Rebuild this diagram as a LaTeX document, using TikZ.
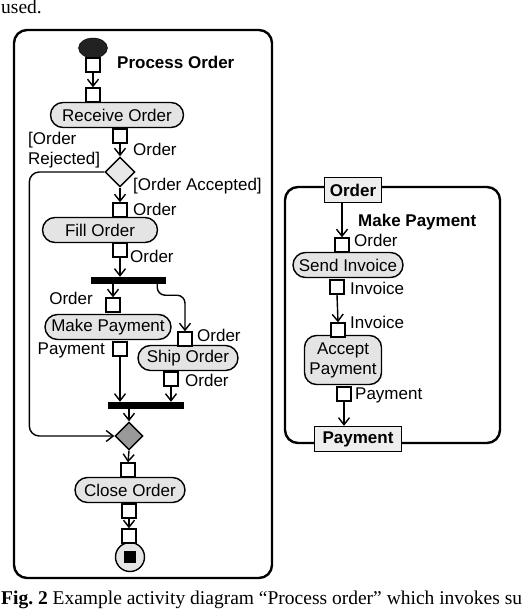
\documentclass[tikz,border=0pt]{standalone}
\usepackage{fontspec}
\setmainfont{Liberation Sans}
\newfontfamily\capfont{Liberation Serif}
\newcommand\fs{\fontsize{17}{20}\selectfont}
\newcommand\capfs{\fontsize{19.5}{22}\selectfont}
\newcommand\lw{1.4pt}
\usepackage{tikz}
\usetikzlibrary{shapes.geometric,arrows.meta}
\definecolor{actgray}{HTML}{E4E4E4}
\definecolor{decgray}{HTML}{E8E8E8}
\definecolor{mergegray}{HTML}{999999}
\definecolor{startgray}{HTML}{222222}
\definecolor{boxgray}{HTML}{EEEEEE}
\tikzset{action/.style={draw,line width=\lw,fill=actgray,rounded corners=12.5pt,minimum height=25,inner sep=1pt,font=\fs},
         pin/.style={draw,line width=\lw,fill=white,minimum size=14,inner sep=0pt},
         decision/.style={diamond,draw,line width=\lw,fill=decgray,minimum size=30,inner sep=0pt},
         bar/.style={rectangle,draw,fill=black,minimum height=6,inner sep=0pt},
         param/.style={draw,line width=\lw,fill=boxgray,minimum height=25,inner sep=2pt,font=\fs\bfseries},
         frame/.style={line width=2.4pt,rounded corners=13},
         lbl/.style={inner sep=0pt,font=\fs},
         title/.style={inner sep=0pt,font=\fs\bfseries},
         flow/.style={line width=\lw,-{Straight Barb[length=7pt,width=11pt]}}}

\begin{document}
\begin{tikzpicture}[x=1pt,y=-1pt]
                \useasboundingbox (0,0) rectangle (526,610);
                \node[inner sep=0pt,anchor=base west,font=\capfont\capfs] (used) at (1,14) {used.};
                \node[inner sep=0pt,anchor=base west,font=\capfont\capfs] (caption) at (1,604) {\textbf{Fig.~2} Example activity diagram “Process order” which invokes su};

                \draw[frame] (14,30) rectangle (272,578);
                \draw[frame] (285,187) rectangle (500,443);

                \node[ellipse,fill=startgray,draw,minimum width=29,minimum height=20,inner sep=0pt] (start) at (93,48) {};
                \node[pin] (p0) at (93,65) {};
                \node[title,anchor=west] (pot) at (117,62) {Process Order};
                \node[action,minimum width=133] (recv) at (117,115) {Receive Order};
                \node[pin] (p1) at (93,95) {};
                \node[pin] (p2) at (120,136) {};
                \node[lbl,anchor=west] (l2) at (133,149) {Order};
                \node[decision] (dec) at (120,172) {};
                \node[lbl,anchor=north west,align=left] (lrej) at (28,132) {[Order\\Rejected]};
                \node[lbl,anchor=west] (lacc) at (133,186) {[Order Accepted]};

                \node[action,minimum width=115] (fill) at (100,230) {Fill Order};
                \node[pin] (p3) at (120,210) {};
                \node[lbl,anchor=west] (l3) at (133,209) {Order};
                \node[pin] (p4) at (120,250) {};
                \node[lbl,anchor=west] (l4) at (130,256) {Order};
                \node[bar,minimum width=74] (fork) at (128,280) {};

                \node[action,minimum width=126] (mkpay) at (108,327) {Make Payment};
                \node[pin] (p5) at (113,305) {};
                \node[lbl,anchor=east] (l5) at (93,298) {Order};
                \node[pin] (p6) at (120,349) {};
                \node[lbl,anchor=east] (l6) at (105,350) {Payment};

                \node[action,minimum width=100] (ship) at (188,358) {Ship Order};
                \node[pin] (p7) at (185,339) {};
                \node[lbl,anchor=west] (l7) at (197,335) {Order};
                \node[pin] (p8) at (171,379) {};
                \node[lbl,anchor=west] (l8) at (185,380) {Order};

                \node[bar,minimum width=75] (join) at (146,405) {};
                \node[decision,fill=mergegray,minimum size=28] (merge) at (129,436) {};

                \node[action,minimum width=110] (close) at (130,490) {Close Order};
                \node[pin] (p9) at (128,470) {};
                \node[pin] (p10) at (129,511) {};
                \node[circle,draw,line width=\lw,fill=actgray,minimum size=29,inner sep=0pt] (end) at (130,557) {};
                \node[rectangle,fill=black,minimum size=12,inner sep=0pt] (endsq) at (130,557) {};
                \node[pin] (p11) at (129,536) {};

                \draw[flow] (p0.south) -- (p1.north);
                \draw[flow] (p2.south) -- (dec.north);
                \draw[flow] (dec.south) -- (p3.north);
                \draw[flow] (p4.south) -- (p4 |- fork.north);
                \draw[flow] (fork.south -| p5) -- (p5.north);
                \draw[flow,rounded corners=8] ([xshift=-8]fork.south east) -- ++(0,12) -| (p7.north);
                \draw[flow] (p6.south) -- (p6 |- join.north);
                \draw[flow] (p8.south) -- (p8 |- join.north);
                \draw[flow] (join.south -| merge) -- (merge.north);
                \draw[flow,rounded corners=10] (dec.west) -- ++(-75,0) |- (merge.west);
                \draw[flow] (merge.south) -- (p9.north);
                \draw[flow] (p10.south) -- (p11.north);

                \node[param,minimum width=57] (ordbox) at (353,190) {Order};
                \node[param,minimum width=87] (paybox) at (358,439) {Payment};
                \node[title,anchor=west] (mpt) at (358,222) {Make Payment};
                \node[action,minimum width=110] (send) at (348,265) {Send Invoice};
                \node[pin] (q1) at (342,245) {};
                \node[lbl,anchor=west] (m1) at (354,240) {Order};
                \node[pin] (q2) at (337,287) {};
                \node[lbl,anchor=west] (m2) at (350,288) {Invoice};
                \node[action,minimum width=77,minimum height=49,rounded corners=12,align=center] (accept) at (343,360) {Accept\\Payment};
                \node[pin] (q3) at (338,330) {};
                \node[lbl,anchor=west] (m3) at (350,322) {Invoice};
                \node[pin] (q4) at (344,394) {};
                \node[lbl,anchor=west] (m4) at (355,395) {Payment};

                \draw[flow] (ordbox.south -| q1) -- (q1.north);
                \draw[flow] (q2.south) -- (q3.north);
                \draw[flow] (q4.south) -- (q4 |- paybox.north);
            \end{tikzpicture}
\end{document}
